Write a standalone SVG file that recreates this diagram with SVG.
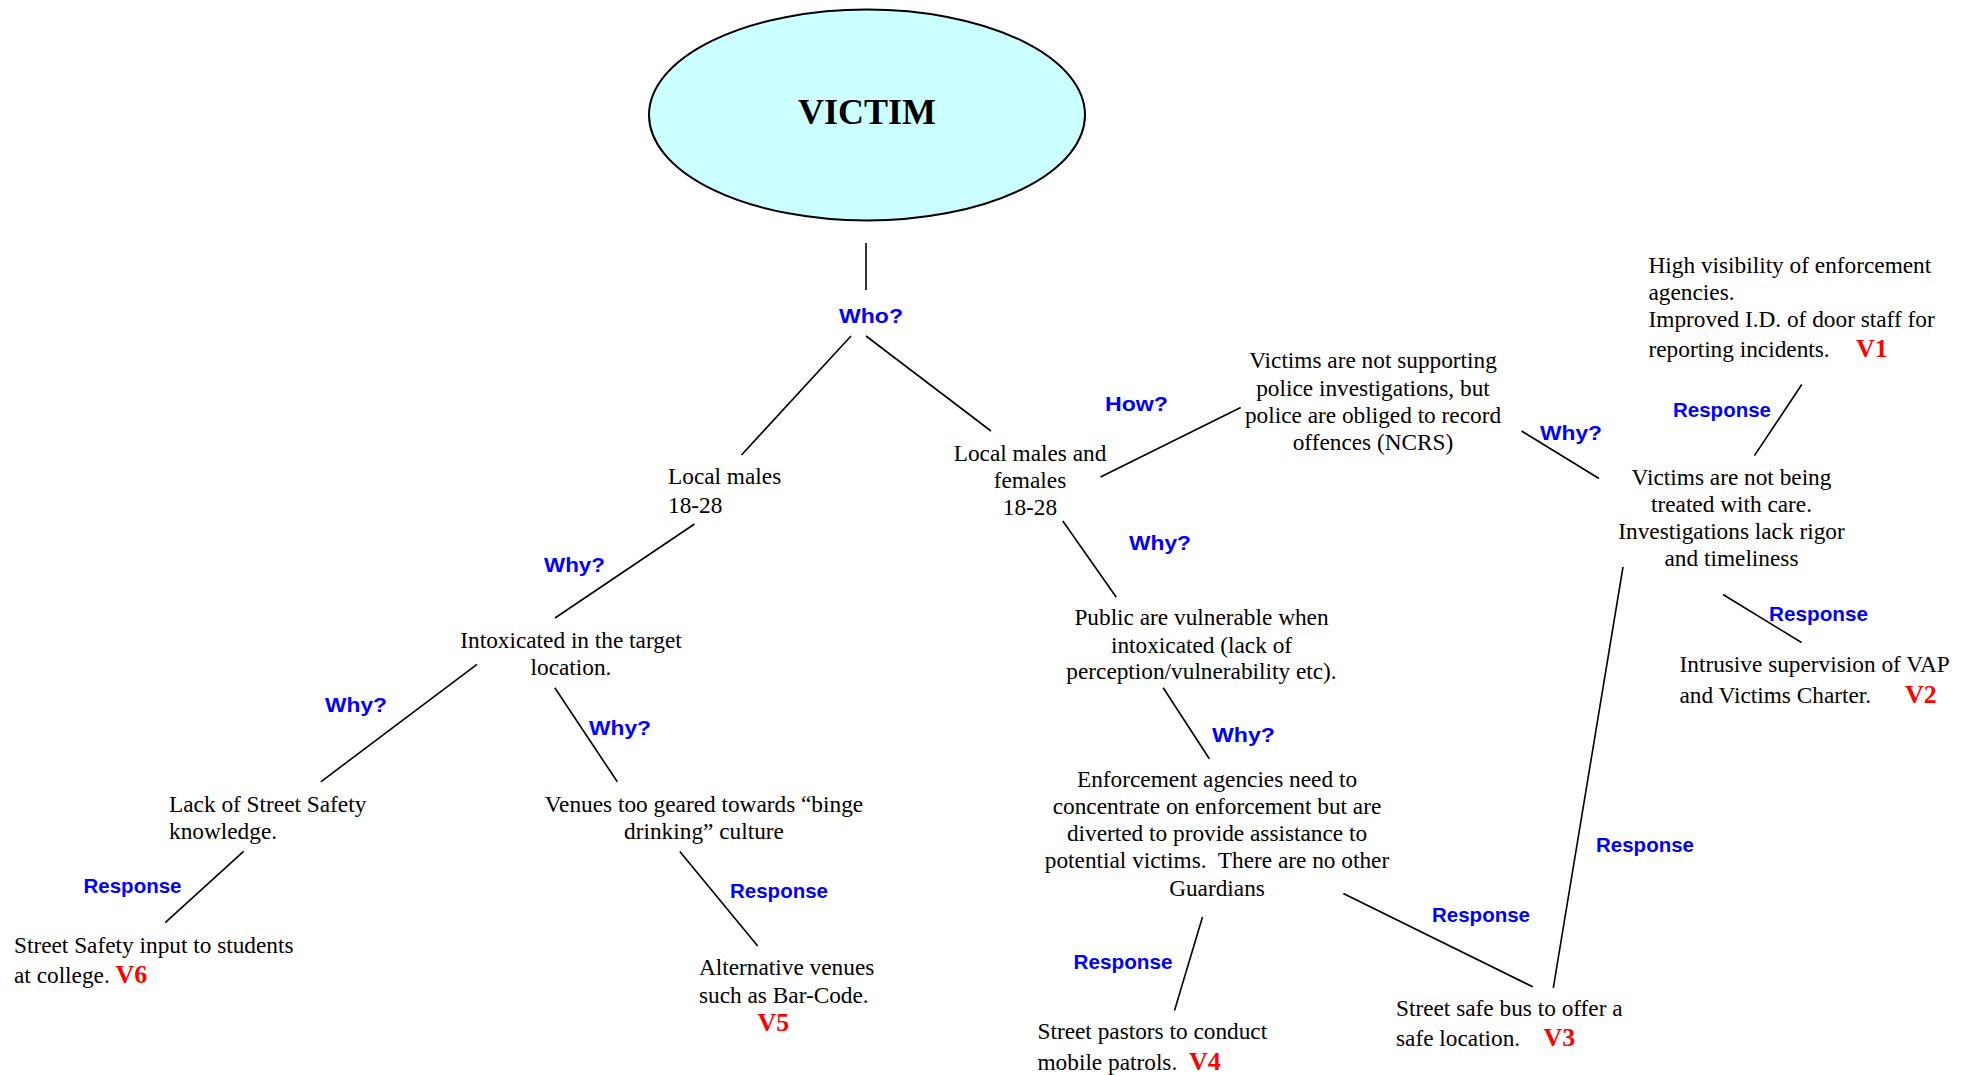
<svg xmlns="http://www.w3.org/2000/svg" width="1977" height="1075" viewBox="0 0 1977 1075">
<style>
.t{font-family:"Liberation Serif","Times New Roman",serif;font-size:23.3px;fill:#000}
.c{text-anchor:middle}
.q{font-family:"Liberation Sans",Arial,sans-serif;font-weight:bold;font-size:20.5px;fill:#0000FF}
.v{font-family:"Liberation Serif","Times New Roman",serif;font-weight:bold;font-size:26px;fill:#FF0000}
.ln{stroke:#000;stroke-width:1.6;fill:none}
</style>
<rect width="1977" height="1075" fill="#fff"/>
<g id="victim">
<ellipse cx="867" cy="115" rx="218" ry="105.5" fill="#CCFFFF" stroke="#000" stroke-width="2"/>
<text x="867" y="124" text-anchor="middle" style="font-family:'Liberation Serif','Times New Roman',serif;font-weight:bold;font-size:36px">VICTIM</text>
</g>
<g id="connectors" class="ln">
<line x1="866" y1="243" x2="866" y2="290"/>
<line x1="851" y1="336" x2="741.5" y2="455"/>
<line x1="866" y1="336" x2="991" y2="431"/>
<line x1="694.5" y1="524" x2="555" y2="618"/>
<line x1="477" y1="664.3" x2="320.8" y2="781.8"/>
<line x1="554.8" y1="687.7" x2="617.3" y2="781.8"/>
<line x1="243.6" y1="851.4" x2="165.2" y2="922.6"/>
<line x1="679.8" y1="851.4" x2="757.7" y2="946"/>
<line x1="1062.8" y1="521" x2="1116.3" y2="597.2"/>
<line x1="1100.5" y1="477" x2="1240.7" y2="407.5"/>
<line x1="1521.6" y1="431" x2="1599" y2="478.5"/>
<line x1="1801.8" y1="384.5" x2="1754.4" y2="455.6"/>
<line x1="1723" y1="594.5" x2="1801.5" y2="642.5"/>
<line x1="1623" y1="567" x2="1553.3" y2="987.8"/>
<line x1="1163.2" y1="687.7" x2="1209.3" y2="758.8"/>
<line x1="1202.5" y1="916.9" x2="1174.5" y2="1010.5"/>
<line x1="1343.3" y1="893.5" x2="1532.7" y2="986.8"/>
</g>
<g id="labels">
<text class="q" x="839" y="323" textLength="64" lengthAdjust="spacingAndGlyphs">Who?</text>
<text class="q" x="544" y="572" textLength="61" lengthAdjust="spacingAndGlyphs">Why?</text>
<text class="q" x="325" y="711.6" textLength="62" lengthAdjust="spacingAndGlyphs">Why?</text>
<text class="q" x="589" y="735" textLength="62" lengthAdjust="spacingAndGlyphs">Why?</text>
<text class="q" x="83.5" y="892.8" textLength="98" lengthAdjust="spacingAndGlyphs">Response</text>
<text class="q" x="730" y="897.8" textLength="98" lengthAdjust="spacingAndGlyphs">Response</text>
<text class="q" x="1105" y="410.5" textLength="63" lengthAdjust="spacingAndGlyphs">How?</text>
<text class="q" x="1129" y="550" textLength="62" lengthAdjust="spacingAndGlyphs">Why?</text>
<text class="q" x="1540" y="440" textLength="62" lengthAdjust="spacingAndGlyphs">Why?</text>
<text class="q" x="1673" y="416.5" textLength="98" lengthAdjust="spacingAndGlyphs">Response</text>
<text class="q" x="1769" y="621.3" textLength="99" lengthAdjust="spacingAndGlyphs">Response</text>
<text class="q" x="1212" y="742.2" textLength="63" lengthAdjust="spacingAndGlyphs">Why?</text>
<text class="q" x="1596" y="852.1" textLength="98" lengthAdjust="spacingAndGlyphs">Response</text>
<text class="q" x="1432" y="922.3" textLength="98" lengthAdjust="spacingAndGlyphs">Response</text>
<text class="q" x="1073.5" y="969.1" textLength="99" lengthAdjust="spacingAndGlyphs">Response</text>
</g>
<g id="local-males">
<text class="t" x="668" y="484">Local males</text>
<text class="t" x="668" y="512.5">18-28</text>
</g>
<g id="local-males-females">
<text class="t c" x="1030" y="461">Local males and</text>
<text class="t c" x="1030" y="488">females</text>
<text class="t c" x="1030" y="515">18-28</text>
</g>
<g id="intoxicated">
<text class="t c" x="571" y="647.5">Intoxicated in the target</text>
<text class="t c" x="571" y="674.5">location.</text>
</g>
<g id="lack-safety">
<text class="t" x="169" y="812.4">Lack of Street Safety</text>
<text class="t" x="169" y="838.8">knowledge.</text>
</g>
<g id="venues">
<text class="t c" x="704" y="812.4">Venues too geared towards “binge</text>
<text class="t c" x="704" y="838.8">drinking” culture</text>
</g>
<g id="v6">
<text class="t" x="14" y="952.8">Street Safety input to students</text>
<text class="t" x="14" y="982.8">at college. <tspan class="v">V6</tspan></text>
</g>
<g id="v5">
<text class="t" x="699" y="975.2">Alternative venues</text>
<text class="t" x="699" y="1002.7">such as Bar-Code.</text>
<text class="v" x="757.5" y="1031.1">V5</text>
</g>
<g id="not-supporting">
<text class="t c" x="1373" y="368.3">Victims are not supporting</text>
<text class="t c" x="1373" y="396">police investigations, but</text>
<text class="t c" x="1373" y="422.6">police are obliged to record</text>
<text class="t c" x="1373" y="449.8">offences (NCRS)</text>
</g>
<g id="v1">
<text class="t" x="1648.5" y="273">High visibility of enforcement</text>
<text class="t" x="1648.5" y="299.5">agencies.</text>
<text class="t" x="1648.5" y="326.5">Improved I.D. of door staff for</text>
<text class="t" x="1648.5" y="357">reporting incidents.</text>
<text class="v" x="1856" y="357">V1</text>
</g>
<g id="not-care">
<text class="t c" x="1731.5" y="485">Victims are not being</text>
<text class="t c" x="1731.5" y="511.7">treated with care.</text>
<text class="t c" x="1731.5" y="538.8">Investigations lack rigor</text>
<text class="t c" x="1731.5" y="566">and timeliness</text>
</g>
<g id="v2">
<text class="t" x="1679.5" y="671.6">Intrusive supervision of VAP</text>
<text class="t" x="1679.5" y="702.8">and Victims Charter.</text>
<text class="v" x="1905" y="702.8">V2</text>
</g>
<g id="vulnerable">
<text class="t c" x="1201.5" y="625.4">Public are vulnerable when</text>
<text class="t c" x="1201.5" y="652.5">intoxicated (lack of</text>
<text class="t c" x="1201.5" y="679.2">perception/vulnerability etc).</text>
</g>
<g id="enforcement">
<text class="t c" x="1217" y="786.9">Enforcement agencies need to</text>
<text class="t c" x="1217" y="814.4">concentrate on enforcement but are</text>
<text class="t c" x="1217" y="841.4">diverted to provide assistance to</text>
<text class="t c" x="1217" y="868.4" xml:space="preserve">potential victims.  There are no other</text>
<text class="t c" x="1217" y="895.8">Guardians</text>
</g>
<g id="v4">
<text class="t" x="1037.5" y="1039.3">Street pastors to conduct</text>
<text class="t" x="1037.5" y="1069.8">mobile patrols.</text>
<text class="v" x="1189" y="1069.8">V4</text>
</g>
<g id="v3">
<text class="t" x="1396" y="1015.9">Street safe bus to offer a</text>
<text class="t" x="1396" y="1046.4">safe location.</text>
<text class="v" x="1543.5" y="1046.4">V3</text>
</g>
</svg>
